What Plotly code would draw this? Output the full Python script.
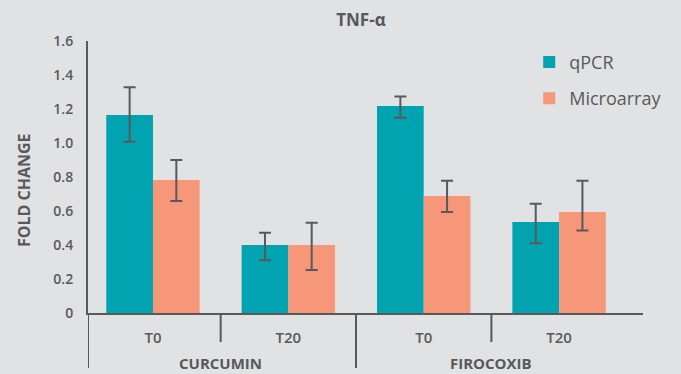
import plotly.graph_objects as go

groups = ["CURCUMIN", "CURCUMIN", "FIROCOXIB", "FIROCOXIB"]
times = ["T0", "T20", "T0", "T20"]
group_names = ["CURCUMIN", "FIROCOXIB"]

qpcr = [1.165, 0.40, 1.218, 0.535]
qpcr_err_plus = [0.163, 0.072, 0.055, 0.108]
qpcr_err_minus = [0.157, 0.09, 0.07, 0.125]

micro = [0.782, 0.40, 0.688, 0.594]
micro_err_plus = [0.118, 0.131, 0.09, 0.184]
micro_err_minus = [0.123, 0.147, 0.094, 0.108]

y_ticks = [0, 0.2, 0.4, 0.6, 0.8, 1.0, 1.2, 1.4, 1.6]
y_tick_labels = ["0", "0.2", "0.4", "0.6", "0.8", "1.0", "1.2", "1.4", "1.6"]

TEAL = "#00a3af"
SALMON = "#f7977a"
GRAY = "#58595b"
BG = "#e1e2e4"
FONT = "Open Sans"

keys = [g + " " + t for g, t in zip(groups, times)]
XR = [-0.48, 3.62]

fig = go.Figure()
fig.add_trace(go.Bar(
    name="qPCR", x=keys, y=qpcr, marker=dict(color=TEAL, line=dict(width=0)),
    legendgroup="a",
    error_y=dict(type="data", symmetric=False, array=qpcr_err_plus, arrayminus=qpcr_err_minus,
                 color=GRAY, thickness=2, width=6),
))
fig.add_trace(go.Bar(
    name="Microarray", x=keys, y=micro, marker=dict(color=SALMON, line=dict(width=0)),
    legendgroup="b",
    error_y=dict(type="data", symmetric=False, array=micro_err_plus, arrayminus=micro_err_minus,
                 color=GRAY, thickness=2, width=6),
))

H = 272.0  # plot area height in px
W = 555.0  # plot area width in px

shapes = []
for i in range(len(keys)):
    xb = XR[0] if i == 0 else i - 0.5
    long = (i == 0) or (groups[i] != groups[i - 1])
    shapes.append(dict(type="line", xref="x", yref="paper", x0=xb, x1=xb,
                       y0=0, y1=-(55 if long else 29) / H,
                       line=dict(color=GRAY, width=2)))

annotations = []
for gi, g in enumerate(group_names):
    idx = [i for i, gg in enumerate(groups) if gg == g]
    annotations.append(dict(text="<b>" + g + "</b>", xref="x", yref="paper",
                            x=sum(idx) / len(idx), y=-50 / H, yanchor="middle",
                            showarrow=False, font=dict(family=FONT, size=15, color=GRAY)))
annotations.append(dict(text="<b>FOLD CHANGE</b>", xref="paper", yref="paper",
                        x=-64 / W, y=(272 - 149) / H, xanchor="center", yanchor="middle",
                        textangle=-90, showarrow=False,
                        font=dict(family=FONT, size=16, color=GRAY)))

fig.update_layout(
    width=681, height=374,
    margin=dict(l=88, r=38, t=41, b=61, autoexpand=False),
    paper_bgcolor=BG, plot_bgcolor=BG,
    barmode="group", bargap=0.31, bargroupgap=0,
    font=dict(family=FONT, color=GRAY),
    title=dict(text="<b>TNF-α</b>", x=0.53, xanchor="center", y=1 - 20 / 374, yanchor="middle",
               font=dict(family=FONT, size=17, color=GRAY)),
    legend=dict(x=0.795, y=0.99, xanchor="left", yanchor="top", bgcolor="rgba(0,0,0,0)",
                font=dict(family=FONT, size=18, color=GRAY), tracegroupgap=10,
                traceorder="grouped"),
    xaxis=dict(type="category", range=XR, showline=True, linecolor=GRAY, linewidth=2,
               showgrid=False, zeroline=False, ticks="", tickvals=keys, ticktext=times,
               tickfont=dict(family=FONT, size=15, color=GRAY, weight=600), ticklabelstandoff=10),
    yaxis=dict(range=[0, 1.6], showline=True, linecolor=GRAY, linewidth=2, showgrid=False,
               zeroline=False, ticks="", tickvals=y_ticks, ticktext=y_tick_labels,
               tickfont=dict(family=FONT, size=14, color=GRAY, weight=600), ticklabelstandoff=10),
    shapes=shapes, annotations=annotations,
)

fig.write_html("out.html", config={"displayModeBar": False},
               post_script="document.body.style.margin='0';document.body.style.overflow='hidden';")
